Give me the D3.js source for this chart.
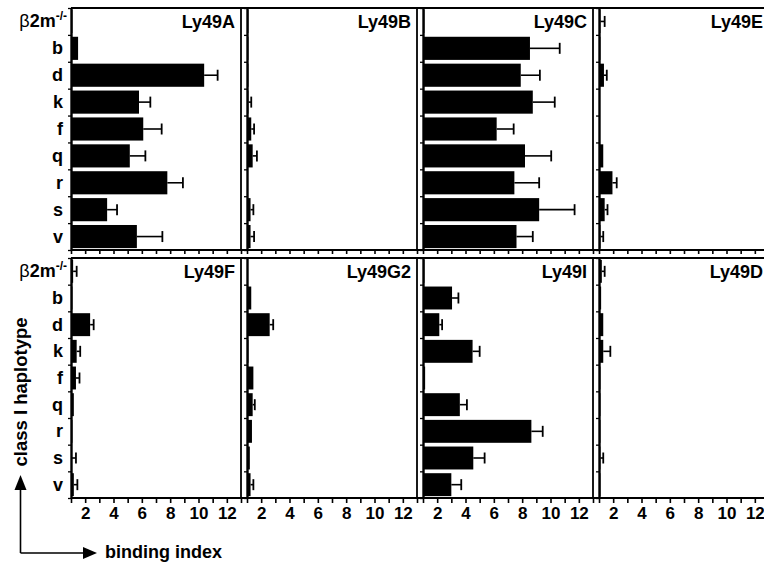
<!DOCTYPE html>
<html>
<head>
<meta charset="utf-8">
<title>Ly49 binding index</title>
<script src="https://cdn.jsdelivr.net/npm/d3@7"></script>
<style>
  body { margin: 0; background: #fff; }
  text { font-family: "Liberation Sans", Arial, sans-serif; font-weight: bold; fill: #000; }
</style>
</head>
<body>
<svg id="chart" width="764" height="567"></svg>
<script>
// rows of every panel
var haplotypes = ["b2m", "b", "d", "k", "f", "q", "r", "s", "v"];
var receptors = ["Ly49A", "Ly49B", "Ly49C", "Ly49E", "Ly49F", "Ly49G2", "Ly49I", "Ly49D"];
var xTickValues = [1, 2, 3, 4, 5, 6, 7, 8, 9, 10, 11, 12, 13];
var xTickLabels = [2, 4, 6, 8, 10, 12];

// binding index (mean) and error, order = haplotypes
var ly49A    = [1.1, 1.5, 10.4, 5.8, 6.1, 5.15, 7.8, 3.55, 5.65];
var ly49AErr = [0, 0, 0.95, 0.8, 1.3, 1.1, 1.1, 0.7, 1.8];
var ly49B    = [1.1, 1.1, 1.1, 1.1, 1.3, 1.4, 1.05, 1.25, 1.25];
var ly49BErr = [0, 0, 0, 0.2, 0.2, 0.3, 0, 0.2, 0.25];
var ly49C    = [1.1, 8.55, 7.9, 8.75, 6.2, 8.2, 7.45, 9.2, 7.6];
var ly49CErr = [0, 2.1, 1.35, 1.55, 1.2, 1.85, 1.75, 2.5, 1.15];
var ly49E    = [1.1, 1.1, 1.35, 1.05, 1.05, 1.3, 1.95, 1.4, 1.1];
var ly49EErr = [0.3, 0, 0.2, 0, 0, 0, 0.3, 0.2, 0.2];
var ly49F    = [1.15, 1.1, 2.35, 1.4, 1.35, 1.2, 1.1, 1.05, 1.2];
var ly49FErr = [0.25, 0, 0.25, 0.25, 0.25, 0, 0, 0.3, 0.25];
var ly49G2    = [1.05, 1.3, 2.6, 1.1, 1.45, 1.4, 1.35, 1.2, 1.25];
var ly49G2Err = [0, 0, 0.25, 0, 0, 0.15, 0, 0, 0.2];
var ly49I    = [1.1, 3.05, 2.15, 4.5, 1.15, 3.6, 8.65, 4.55, 3.0];
var ly49IErr = [0, 0.45, 0.2, 0.5, 0, 0.5, 0.8, 0.8, 0.7];
var ly49D    = [1.2, 1.15, 1.3, 1.3, 1.1, 1.1, 1.1, 1.1, 1.1];
var ly49DErr = [0.2, 0, 0, 0.5, 0, 0, 0, 0.2, 0];

var means = [ly49A, ly49B, ly49C, ly49E, ly49F, ly49G2, ly49I, ly49D];
var errs  = [ly49AErr, ly49BErr, ly49CErr, ly49EErr, ly49FErr, ly49G2Err, ly49IErr, ly49DErr];

// view settings
var left = 71, step = 176, panelW = 170;
var rowsY = [[8, 250], [258, 498]];

var svg = d3.select("#chart");

// outer horizontal rules
[8, 250, 258, 498].forEach(function(y) {
    svg.append("line").attr("x1", left).attr("x2", 764).attr("y1", y).attr("y2", y)
        .attr("stroke", "#000").attr("stroke-width", 2);
});

receptors.forEach(function(name, p) {
    var row = Math.floor(p / 4), col = p % 4;
    var x0 = left + col * step;
    var y0 = rowsY[row][0], y1 = rowsY[row][1];

    var x = d3.scaleLinear().domain([1, 13]).range([x0, x0 + panelW]);
    var y = d3.scaleBand().domain(haplotypes).range([y0, y1]).paddingInner(0.14).paddingOuter(0.07);
    var yLin = d3.scaleLinear().domain([0, 9]).range([y0, y1]);

    var g = svg.append("g");

    // bars
    g.selectAll("rect")
        .data(means[p])
        .enter()
        .append("rect")
        .attr("x", x(1))
        .attr("y", function(d, i) { return y(haplotypes[i]); })
        .attr("width", function(d) { return x(d) - x(1); })
        .attr("height", y.bandwidth())
        .attr("fill", "#000");

    // error bars
    var eb = g.selectAll(".err")
        .data(means[p].map(function(d, i) { return { m: d, e: errs[p][i], h: haplotypes[i] }; })
                      .filter(function(d) { return d.e > 0; }))
        .enter()
        .append("g")
        .attr("class", "err");
    eb.append("line")
        .attr("x1", function(d) { return x(d.m); })
        .attr("x2", function(d) { return x(d.m + d.e); })
        .attr("y1", function(d) { return y(d.h) + y.bandwidth() / 2; })
        .attr("y2", function(d) { return y(d.h) + y.bandwidth() / 2; })
        .attr("stroke", "#000").attr("stroke-width", 1.6);
    eb.append("line")
        .attr("x1", function(d) { return x(d.m + d.e); })
        .attr("x2", function(d) { return x(d.m + d.e); })
        .attr("y1", function(d) { return y(d.h) + y.bandwidth() / 2 - 5.5; })
        .attr("y2", function(d) { return y(d.h) + y.bandwidth() / 2 + 5.5; })
        .attr("stroke", "#000").attr("stroke-width", 1.8);

    // x axis
    var xAxis = d3.axisBottom(x)
        .tickValues(xTickValues)
        .tickSizeOuter(0)
        .tickSize(row === 0 ? 4 : 5)
        .tickPadding(4)
        .tickFormat(function(d) { return (row === 1 && xTickLabels.indexOf(d) >= 0) ? d : ""; });
    var ax = g.append("g").attr("transform", "translate(0," + y1 + ")").call(xAxis);
    ax.select(".domain").remove();
    ax.selectAll("line").attr("stroke-width", 1.6);
    ax.selectAll("text").attr("font-size", 17).attr("font-family", null);

    // y axis with ticks at row boundaries
    var yAxis = d3.axisLeft(yLin).tickValues(d3.range(0, 10)).tickSize(3).tickSizeOuter(0).tickFormat("");
    var ay = g.append("g").attr("transform", "translate(" + x0 + ",0)").call(yAxis);
    ay.select(".domain").attr("stroke-width", 2.4);
    ay.selectAll("line").attr("stroke-width", 1.3);

    // right frame
    g.append("line").attr("x1", x0 + panelW).attr("x2", x0 + panelW)
        .attr("y1", y0).attr("y2", y1).attr("stroke", "#000").attr("stroke-width", 1.8);

    // title
    g.append("text")
        .attr("x", x0 + panelW - 6)
        .attr("y", y0 + 20)
        .attr("text-anchor", "end")
        .attr("font-size", 18)
        .text(name);

    // row labels on the first column
    if (col === 0) {
        g.selectAll(".rowlab")
            .data(haplotypes)
            .enter()
            .append("text")
            .attr("class", "rowlab")
            .attr("text-anchor", "end")
            .attr("font-size", 18)
            .attr("x", function(d, i) { return i === 0 ? 67 : 63; })
            .attr("y", function(d) { return y(d) + y.bandwidth() / 2 + 6; })
            .each(function(d, i) {
                var t = d3.select(this);
                if (i === 0) {
                    t.append("tspan").attr("font-weight", "normal").text("\u03b2");
                    t.append("tspan").text("2m");
                    t.append("tspan").attr("font-size", 12).attr("dy", -7).text("-/-");
                } else {
                    t.text(d);
                }
            });
    }
});

// y title
svg.append("text")
    .attr("transform", "translate(27,392) rotate(-90)")
    .attr("text-anchor", "middle")
    .attr("font-size", 18.5)
    .text("class I haplotype");

// corner arrows
svg.append("path")
    .attr("d", "M20.5,553 V488 M20.5,553 H85")
    .attr("fill", "none").attr("stroke", "#000").attr("stroke-width", 1.6);
svg.append("path").attr("d", "M20.5,475 L14.5,490 L26.5,490 Z").attr("fill", "#000");
svg.append("path").attr("d", "M97,553 L83,547 L83,559 Z").attr("fill", "#000");

svg.append("text")
    .attr("x", 105)
    .attr("y", 558)
    .attr("font-size", 18)
    .text("binding index");
</script>
</body>
</html>
